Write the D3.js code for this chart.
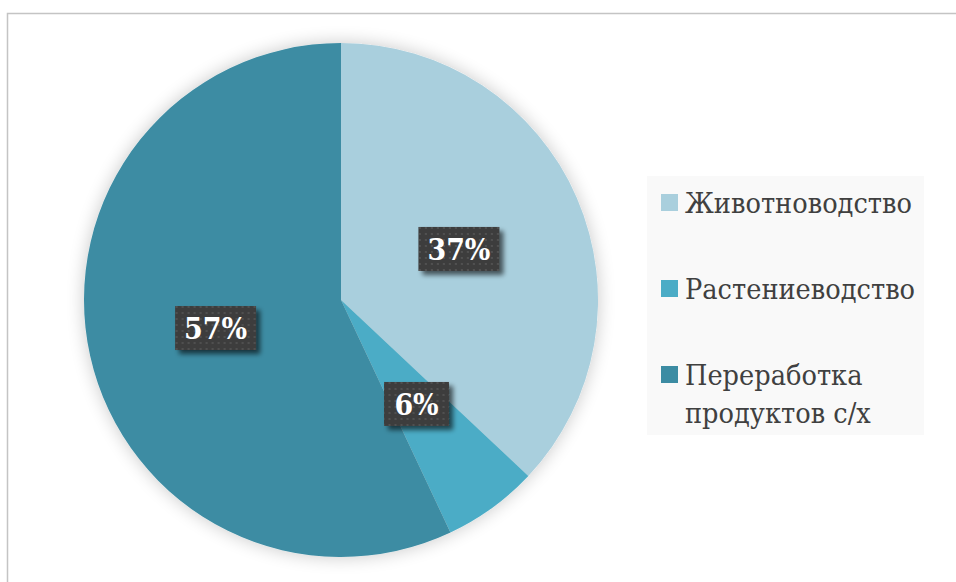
<!DOCTYPE html>
<html><head><meta charset="utf-8">
<script src="https://cdn.jsdelivr.net/npm/d3@7"></script>
<style>html,body{margin:0;padding:0;background:#fff;}</style>
</head><body>
<svg id="c" width="956" height="582"></svg>
<script>
const categories = ["Животноводство", "Растениеводство", "Переработка продуктов с/х"];
const legendLines = [["Животноводство"], ["Растениеводство"], ["Переработка", "продуктов с/х"]];
const values = [37, 6, 57];
const labels = ["37%", "6%", "57%"];
const colors = ["#A9CFDD", "#4BACC6", "#3C8CA3"];

const svg = d3.select("#c");
const defs = svg.append("defs");

const pat = defs.append("pattern").attr("id","dots").attr("width",6).attr("height",6).attr("patternUnits","userSpaceOnUse");
pat.append("rect").attr("width",6).attr("height",6).attr("fill","#3d3d3d");
pat.append("circle").attr("cx",3).attr("cy",3).attr("r",1.1).attr("fill","#555");

const sh = defs.append("filter").attr("id","lblShadow").attr("x","-20%").attr("y","-20%").attr("width","150%").attr("height","160%");
sh.append("feGaussianBlur").attr("in","SourceAlpha").attr("stdDeviation",2.5).attr("result","b");
sh.append("feOffset").attr("in","b").attr("dx",4).attr("dy",4).attr("result","o");
sh.append("feComponentTransfer").attr("in","o").attr("result","oa").append("feFuncA").attr("type","linear").attr("slope",0.6);
const m = sh.append("feMerge"); m.append("feMergeNode").attr("in","oa"); m.append("feMergeNode").attr("in","SourceGraphic");

const glow = defs.append("filter").attr("id","pieGlow").attr("x","-20%").attr("y","-20%").attr("width","140%").attr("height","140%");
glow.append("feGaussianBlur").attr("in","SourceAlpha").attr("stdDeviation",9).attr("result","b");
glow.append("feComponentTransfer").attr("in","b").attr("result","ba").append("feFuncA").attr("type","linear").attr("slope",0.22);
const gm = glow.append("feMerge"); gm.append("feMergeNode").attr("in","ba"); gm.append("feMergeNode").attr("in","SourceGraphic");

svg.append("path").attr("d","M7.5,582 L7.5,13.5 L956,13.5").attr("fill","none").attr("stroke","#c4c4c4").attr("stroke-width",1.5);

const cx = 341, cy = 300, R = 257;
const pie = d3.pie().sort(null).value(d => d)(values);
const arc = d3.arc().innerRadius(0).outerRadius(R);

const g = svg.append("g").attr("transform",`translate(${cx},${cy})`);
const pg = g.append("g").attr("filter","url(#pieGlow)");
pg.selectAll("path").data(pie).join("path")
  .attr("d", arc).attr("fill", (d,i) => colors[i]);

const boxW = [81, 65, 81], boxH = 44;
const lg = g.selectAll("g.lbl").data(pie).join("g").attr("class","lbl")
  .attr("transform",d => `translate(${arc.centroid(d)})`);
lg.append("rect").attr("x",(d,i)=>-boxW[i]/2).attr("y",-boxH/2).attr("width",(d,i)=>boxW[i]).attr("height",boxH)
  .attr("fill","url(#dots)").attr("filter","url(#lblShadow)");
const lt = lg.append("g");
lt.append("text").attr("font-family","'DejaVu Serif','Noto Serif',serif")
  .attr("text-anchor","middle").attr("y",11)
  .attr("font-weight","bold").attr("font-size",30).attr("fill","#fff").text((d,i)=>labels[i]);
const lw = lt.select("text").node().getComputedTextLength();
const lsx = 63 / lw;
lt.attr("transform",`scale(${lsx},1)`);

// legend
const leg = svg.append("g");
leg.append("rect").attr("x",647).attr("y",176).attr("width",277).attr("height",259).attr("fill","#f9f9f9");
const baseY = [213, 299, 385];
const li = leg.selectAll("g.li").data(categories).join("g").attr("class","li")
  .attr("transform",(d,i)=>`translate(661,${baseY[i]})`);
li.append("rect").attr("x",0).attr("y",-19).attr("width",17).attr("height",17).attr("fill",(d,i)=>colors[i]);
const tg = li.append("g").attr("transform","translate(24,0)");
const t = tg.append("text").attr("font-family","'DejaVu Serif','Noto Serif',serif")
  .attr("font-size",27).attr("fill","#404040");
t.selectAll("tspan").data((d,i)=>legendLines[i]).join("tspan")
  .attr("x",0).attr("y",(d,j)=> j*38).text(d=>d);
const w0 = t.node().getComputedTextLength();
const sx = 227 / w0;
tg.attr("transform",`translate(24,0) scale(${sx},1)`);
</script>
</body></html>
